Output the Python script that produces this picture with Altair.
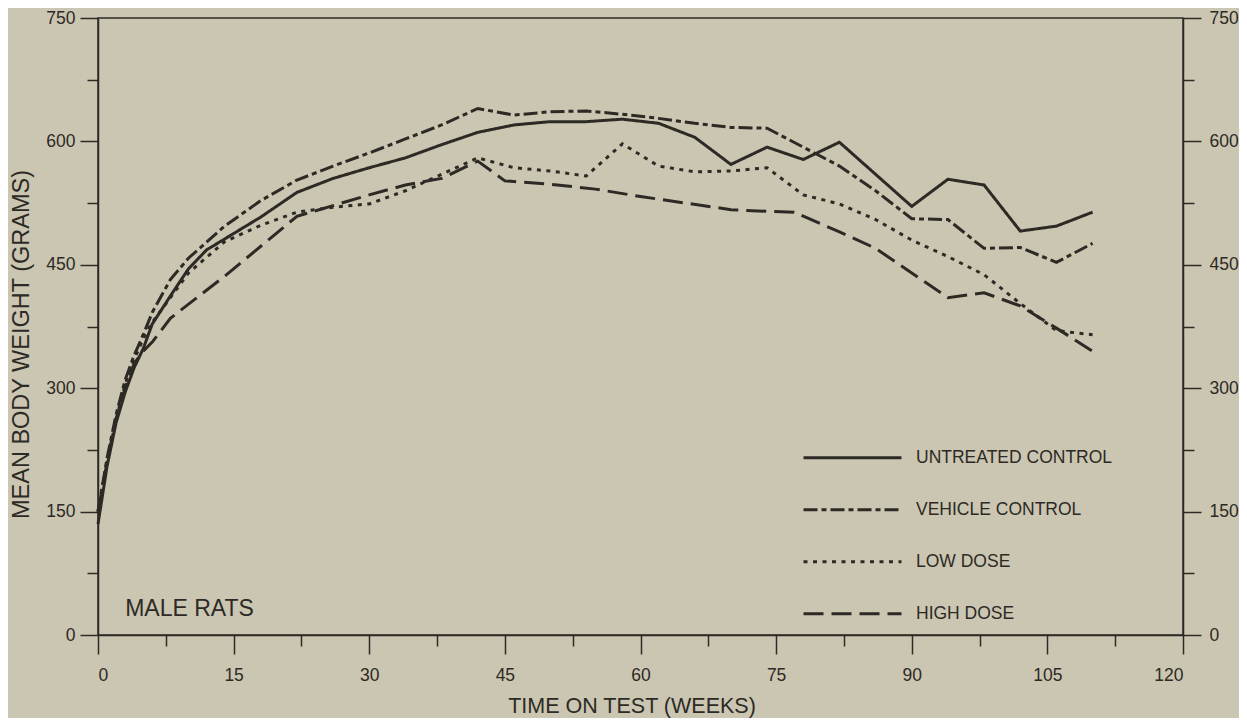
import altair as alt
import pandas as pd

SERIES = ["UNTREATED CONTROL", "VEHICLE CONTROL", "LOW DOSE", "HIGH DOSE"]

U_W = [0, 1, 2, 3, 4, 5, 6, 8, 10, 12, 15, 18, 22, 26, 30, 34, 38, 42, 46, 50, 54, 58, 62, 66, 70, 74, 78, 82, 90, 94, 98, 102, 106, 110]
U_V = [135, 205, 258, 295, 325, 348, 378, 412, 445, 468, 488, 508, 538, 555, 568, 580, 596, 611, 620, 624, 624, 627, 622, 605, 572, 593, 578, 599, 521, 554, 547, 491, 497, 514]

V_W = [0, 1, 2, 3, 4, 5, 6, 8, 10, 14, 18, 22, 26, 30, 34, 38, 42, 46, 50, 54, 58, 62, 66, 70, 74, 78, 82, 86, 90, 94, 98, 102, 106, 110]
V_V = [150, 215, 268, 310, 340, 365, 392, 432, 458, 497, 528, 553, 570, 586, 603, 620, 640, 632, 636, 637, 633, 628, 622, 617, 616, 593, 570, 540, 506, 505, 470, 471, 453, 476]

L_W = [0, 1, 2, 3, 4, 5, 6, 8, 10, 14, 18, 22, 26, 30, 34, 38, 42, 46, 50, 54, 58, 62, 66, 70, 74, 78, 82, 86, 90, 94, 98, 102, 106, 110]
L_V = [150, 210, 262, 305, 335, 360, 380, 410, 440, 478, 498, 514, 520, 524, 540, 560, 580, 568, 564, 558, 597, 570, 563, 564, 568, 535, 524, 505, 480, 460, 438, 403, 370, 365]

H_W = [0, 1, 2, 3, 4, 5, 6, 8, 14, 22, 26, 30, 34, 38, 42, 45, 50, 55, 60, 65, 70, 74, 77, 82, 86, 90, 94, 98, 102, 106, 110]
H_V = [150, 210, 262, 300, 330, 345, 356, 385, 436, 509, 522, 535, 547, 555, 576, 552, 548, 542, 533, 525, 517, 515, 514, 490, 470, 440, 410, 416, 400, 373, 345]

X_TICKS = [i * 7.5 for i in range(17)]
Y_TICKS = [i * 75 for i in range(11)]

INK = "#2d2a25"
BG = "#cbc6b1"
FONT = "Liberation Sans"

rows = []
for name, ws, vs in zip(SERIES, [U_W, V_W, L_W, H_W], [U_V, V_V, L_V, H_V]):
    for w, v in zip(ws, vs):
        rows.append({"series": name, "week": w, "weight": v})
df = pd.DataFrame(rows)

x_scale = alt.Scale(domain=[0, 120], nice=False, zero=False)
y_scale = alt.Scale(domain=[0, 750], nice=False)

x_axis = alt.Axis(
    values=X_TICKS,
    labelExpr="datum.value % 15 === 0 ? format(datum.value, 'd') : ''",
    tickSize={"condition": {"test": "datum.value % 15 === 0", "value": 19}, "value": 11},
    labelPadding=12,
    title="TIME ON TEST (WEEKS)",
    titleX=533.5,
    titleY=77.5,
    titleBaseline="alphabetic",
    titleAlign="center",
    titleFontSize=21.5,
    titleFontWeight="normal",
    labelFontSize=17.5,
    grid=False,
)


def y_axis(orient):
    if orient == "left":
        extra = dict(
            title="MEAN BODY WEIGHT (GRAMS)",
            titleX=-69.5,
            titleY=326,
            titleAngle=270,
            titleBaseline="alphabetic",
            titleAlign="center",
            titleFontSize=23.5,
            titleFontWeight="normal",
        )
    else:
        extra = dict(title=None)
    return alt.Axis(
        orient=orient,
        values=Y_TICKS,
        labelExpr="datum.value % 150 === 0 ? format(datum.value, 'd') : ''",
        tickSize={"condition": {"test": "datum.value % 150 === 0", "value": 18}, "value": 11},
        labelPadding=5 if orient == "left" else 8,
        labelFontSize=17.5,
        grid=False,
        **extra,
    )


lines = alt.Chart(df).mark_line(color=INK, strokeWidth=3, strokeCap="butt").encode(
    x=alt.X("week:Q", scale=x_scale, axis=x_axis),
    y=alt.Y("weight:Q", scale=y_scale, axis=y_axis("left")),
    strokeDash=alt.StrokeDash(
        "series:N",
        sort=SERIES,
        scale=alt.Scale(domain=SERIES, range=[[1, 0], [14, 4, 5, 4], [4, 5.5], [20, 8]]),
        legend=alt.Legend(
            title=None,
            orient="none",
            legendX=728.5,
            legendY=413.7,
            symbolType="M-2,0H2",
            symbolSize=2401,
            symbolStrokeWidth=3,
            symbolStrokeColor=INK,
            symbolFillColor="transparent",
            labelFontSize=17.5,
            labelOffset=37.5,
            labelLimit=400,
            rowPadding=17,
            padding=0,
            labelColor=INK,
            labelFont=FONT,
        ),
    ),
    detail="series:N",
)

label = alt.Chart(pd.DataFrame({"t": ["MALE RATS"]})).mark_text(
    align="left", baseline="alphabetic", fontSize=23, font=FONT, color=INK
).encode(
    x=alt.X(datum=3, type="quantitative", scale=x_scale),
    y=alt.Y(datum=22.5, type="quantitative", scale=y_scale, axis=y_axis("right")),
    text="t:N",
)

chart = alt.layer(lines, label).resolve_scale(y="independent").properties(
    width=1085,
    height=617,
    background=BG,
    padding={"left": 90, "top": 10, "right": 56, "bottom": 83},
    autosize=alt.AutoSizeParams(type="none"),
).configure_view(
    stroke=INK, strokeWidth=1.5, fill=BG
).configure_axis(
    domainColor=INK, domainWidth=1.5, tickColor=INK, tickWidth=1.5,
    labelColor=INK, titleColor=INK, labelFont=FONT, titleFont=FONT,
)

chart.save("out.html", embed_options={"renderer": "svg", "actions": False})
